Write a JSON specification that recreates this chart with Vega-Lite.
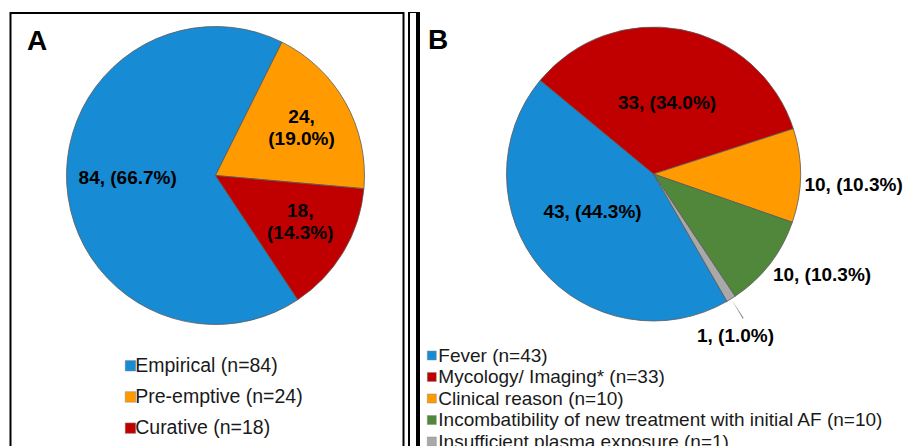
{
  "$schema": "https://vega.github.io/schema/vega-lite/v6.json",
  "padding": {"left": 9.5, "top": 12, "right": 0, "bottom": 0},
  "background": "white",
  "config": {"view": {"stroke": null}, "font": "Liberation Sans"},
  "datasets": {
    "a": [
      {"cat": "Empirical (n=84)", "n": 84, "label": "84, (66.7%)"},
      {"cat": "Pre-emptive (n=24)", "n": 24, "label": "24,\n(19.0%)"},
      {"cat": "Curative (n=18)", "n": 18, "label": "18,\n(14.3%)"}
    ],
    "b": [
      {"cat": "Fever (n=43)", "n": 43, "label": "43, (44.3%)"},
      {"cat": "Mycology/ Imaging* (n=33)", "n": 33, "label": "33, (34.0%)"},
      {"cat": "Clinical reason (n=10)", "n": 10, "label": "10, (10.3%)"},
      {"cat": "Incombatibility of new treatment with initial AF (n=10)", "n": 10, "label": "10, (10.3%)"},
      {"cat": "Insufficient plasma exposure (n=1)", "n": 1, "label": "1, (1.0%)"}
    ],
    "panelA": [{"panel": "A"}],
    "panelB": [{"panel": "B"}]
  },
  "spacing": 3.5,
  "bounds": "flush",
  "resolve": {"scale": {"color": "independent", "theta": "independent"}, "legend": {"color": "independent"}},
  "hconcat": [
    {
      "width": 395,
      "height": 434,
      "layer": [
        {
          "data": {"name": "panelA"},
          "mark": {"type": "rect", "x": 0, "y": 0, "x2": "width", "y2": {"expr": "height + 10"}, "clip": true, "fill": null, "fillOpacity": 0, "stroke": "black", "strokeWidth": 4},
          "encoding": {}
        },
        {
          "data": {"name": "panelA"},
          "mark": {"type": "text", "x": 17.5, "y": 38, "align": "left", "baseline": "alphabetic", "fontSize": 28, "fontWeight": "bold", "font": "Liberation Sans", "color": "black"},
          "encoding": {"text": {"field": "panel"}}
        },
        {
          "data": {"name": "a"},
          "transform": [{"window": [{"op": "row_number", "as": "idx"}]}],
          "mark": {"type": "arc", "x": 206, "y": 163.5, "radius": 149, "stroke": "#5a5a5a", "strokeWidth": 0.8},
          "encoding": {
            "theta": {"field": "n", "type": "quantitative", "stack": true, "scale": {"range": [2.5569, 8.8401]}},
            "order": {"field": "idx", "type": "quantitative"},
            "color": {
              "field": "cat", "type": "nominal",
              "scale": {"domain": ["Empirical (n=84)", "Pre-emptive (n=24)", "Curative (n=18)"], "range": ["#178BD4", "#FF9A00", "#C00000"]},
              "legend": {"title": null, "orient": "none", "legendX": 111.2, "legendY": 344, "symbolType": "square", "symbolSize": 110, "labelFontSize": 19.5, "labelFont": "Liberation Sans", "labelColor": "#1a1a1a", "rowPadding": 10.2, "labelOffset": -5, "padding": 0, "labelLimit": 600, "symbolStrokeColor": "#888", "symbolStrokeWidth": 0.5}
            }
          }
        },
        {
          "data": {"name": "a"},
          "transform": [{"window": [{"op": "row_number", "as": "idx"}]}],
          "mark": {"type": "text", "x": 206, "y": 163.5, "radius": 94, "dx": 6, "dy": -3, "fontSize": 19, "fontWeight": "bold", "font": "Liberation Sans", "color": "black", "align": "center", "baseline": "middle", "clip": true},
          "encoding": {
            "theta": {"field": "n", "type": "quantitative", "stack": true},
            "order": {"field": "idx", "type": "quantitative"},
            "text": {"condition": {"test": "datum.n == 84", "field": "label"}, "value": ""}
          }
        },
        {
          "data": {"name": "a"},
          "transform": [{"window": [{"op": "row_number", "as": "idx"}]}],
          "mark": {"type": "text", "x": 206, "y": 163.5, "radius": 94, "dx": 4, "dy": -13, "fontSize": 19, "fontWeight": "bold", "font": "Liberation Sans", "lineBreak": "\n", "lineHeight": 22, "color": "black", "align": "center", "baseline": "middle", "clip": true},
          "encoding": {
            "theta": {"field": "n", "type": "quantitative", "stack": true},
            "order": {"field": "idx", "type": "quantitative"},
            "text": {"condition": {"test": "datum.n < 50", "field": "label"}, "value": ""}
          }
        }
      ]
    },
    {
      "width": 501,
      "height": 434,
      "layer": [
        {
          "data": {"name": "panelB"},
          "mark": {"type": "rect", "x": 0, "y": -1, "x2": {"expr": "width + 10"}, "y2": {"expr": "height + 10"}, "clip": true, "fill": null, "fillOpacity": 0, "stroke": "black", "strokeWidth": 4},
          "encoding": {}
        },
        {
          "data": {"name": "panelB"},
          "mark": {"type": "text", "x": 20, "y": 37, "align": "left", "baseline": "alphabetic", "fontSize": 28, "fontWeight": "bold", "font": "Liberation Sans", "color": "black"},
          "encoding": {"text": {"field": "panel"}}
        },
        {
          "data": {"name": "b"},
          "transform": [{"window": [{"op": "row_number", "as": "idx"}]}],
          "mark": {"type": "arc", "x": 245.5, "y": 162, "radius": 147, "stroke": "#5a5a5a", "strokeWidth": 0.8},
          "encoding": {
            "theta": {"field": "n", "type": "quantitative", "stack": true, "scale": {"range": [2.618, 8.9012]}},
            "order": {"field": "idx", "type": "quantitative"},
            "color": {
              "field": "cat", "type": "nominal",
              "scale": {"domain": ["Fever (n=43)", "Mycology/ Imaging* (n=33)", "Clinical reason (n=10)", "Incombatibility of new treatment with initial AF (n=10)", "Insufficient plasma exposure (n=1)"], "range": ["#178BD4", "#C00000", "#FF9A00", "#50873A", "#A9A9A9"]},
              "legend": {"title": null, "orient": "none", "legendX": 14.3, "legendY": 334, "symbolType": "square", "symbolSize": 81, "labelFontSize": 19, "labelFont": "Liberation Sans", "labelColor": "#1a1a1a", "rowPadding": 1.5, "labelOffset": -3, "padding": 0, "labelLimit": 600, "symbolStrokeColor": "#888", "symbolStrokeWidth": 0.5}
            }
          }
        },
        {
          "data": {"name": "b"},
          "transform": [{"window": [{"op": "row_number", "as": "idx"}]}],
          "mark": {"type": "arc", "x": 245.5, "y": 162, "radius": 170, "radius2": 148, "padAngle": 0.0435, "color": "#8c8c8c", "clip": true},
          "encoding": {
            "theta": {"field": "n", "type": "quantitative", "stack": true},
            "order": {"field": "idx", "type": "quantitative"},
            "opacity": {"condition": {"test": "datum.n == 1", "value": 1}, "value": 0}
          }
        },
        {
          "data": {"name": "b"},
          "transform": [{"window": [{"op": "row_number", "as": "idx"}]}],
          "mark": {"type": "text", "x": 245.5, "y": 162, "radius": 72, "fontSize": 19, "fontWeight": "bold", "font": "Liberation Sans", "color": "black", "align": "center", "baseline": "middle", "clip": true},
          "encoding": {
            "theta": {"field": "n", "type": "quantitative", "stack": true},
            "order": {"field": "idx", "type": "quantitative"},
            "text": {"condition": {"test": "datum.n == 33", "field": "label"}, "value": ""}
          }
        },
        {
          "data": {"name": "b"},
          "transform": [{"window": [{"op": "row_number", "as": "idx"}]}],
          "mark": {"type": "text", "x": 245.5, "y": 162, "radius": 72, "dx": -6, "dy": -8, "fontSize": 19, "fontWeight": "bold", "font": "Liberation Sans", "color": "black", "align": "center", "baseline": "middle", "clip": true},
          "encoding": {
            "theta": {"field": "n", "type": "quantitative", "stack": true},
            "order": {"field": "idx", "type": "quantitative"},
            "text": {"condition": {"test": "datum.n == 43", "field": "label"}, "value": ""}
          }
        },
        {
          "data": {"name": "b"},
          "transform": [{"window": [{"op": "row_number", "as": "idx"}]}],
          "mark": {"type": "text", "x": 245.5, "y": 162, "radius": 151, "fontSize": 19, "fontWeight": "bold", "font": "Liberation Sans", "color": "black", "align": "left", "baseline": "top", "clip": true},
          "encoding": {
            "theta": {"field": "n", "type": "quantitative", "stack": true},
            "order": {"field": "idx", "type": "quantitative"},
            "text": {"condition": {"test": "datum.n == 10", "field": "label"}, "value": ""}
          }
        },
        {
          "data": {"name": "b"},
          "transform": [{"window": [{"op": "row_number", "as": "idx"}]}],
          "mark": {"type": "text", "x": 245.5, "y": 162, "radius": 180, "dx": -13, "fontSize": 19, "fontWeight": "bold", "font": "Liberation Sans", "color": "black", "align": "center", "baseline": "top", "clip": true},
          "encoding": {
            "theta": {"field": "n", "type": "quantitative", "stack": true},
            "order": {"field": "idx", "type": "quantitative"},
            "text": {"condition": {"test": "datum.n == 1", "field": "label"}, "value": ""}
          }
        }
      ]
    }
  ]
}
